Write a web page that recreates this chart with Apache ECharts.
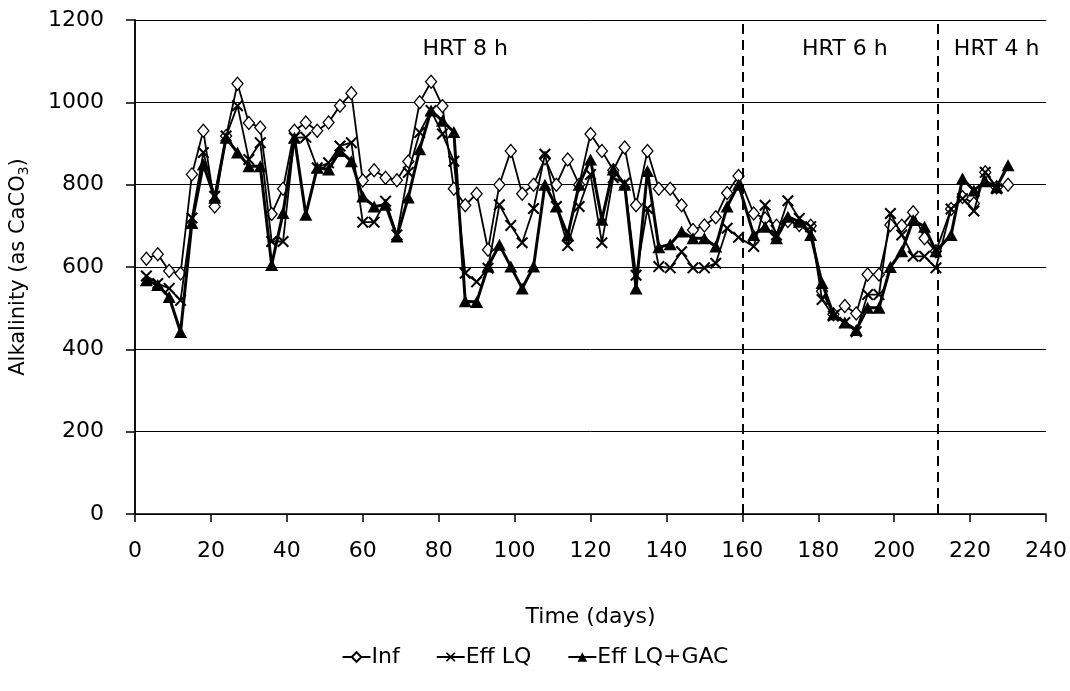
<!DOCTYPE html>
<html>
<head>
<meta charset="utf-8">
<script src="https://cdn.jsdelivr.net/npm/echarts@6/dist/echarts.min.js"></script>
<style>
html,body{margin:0;padding:0;background:#fff;}
#chart{width:1070px;height:691px;}
</style>
</head>
<body>
<div id="chart"></div>
<script>
const days = [3,6,9,12,15,18,21,24,27,30,33,36,39,42,45,48,51,54,57,60,63,66,69,72,75,78,81,84,87,90,93,
  96,99,102,105,108,111,114,117,120,123,126,129,132,135,138,141,144,147,150,153,156,159,
  163,166,169,172,175,178,181,184,187,190,193,196,199,202,205,208,211,
  215,218,221,224,227,230];

const infValues = [620,631,590,584,825,931,747,918,1045,950,939,729,790,931,951,
  931,951,992,1022,810,835,817,811,856,1000,1050,991,790,750,778,642,
  800,882,778,800,864,800,861,800,923,882,835,890,750,882,790,
  790,750,690,701,721,780,821,
  730,718,700,712,702,700,541,485,505,487,582,582,702,700,733,670,638,
  741,770,754,830,794,800];

const effLQValues = [578,560,548,519,719,878,772,918,992,861,902,662,662,914,915,
  841,853,894,902,709,709,760,678,830,927,980,923,857,585,564,597,
  751,701,659,742,874,747,652,747,825,659,817,804,580,742,601,
  598,637,598,598,609,694,672,
  650,750,678,761,718,698,521,481,465,443,533,533,730,678,626,626,598,
  741,766,736,830,790];

const effGACValues = [568,556,527,442,707,849,768,914,878,845,845,605,731,914,727,
  841,837,882,857,771,747,751,674,769,886,980,955,928,517,515,601,
  654,601,548,601,800,747,677,800,861,715,837,800,548,833,648,
  655,686,670,670,650,747,800,
  678,698,670,722,710,678,561,485,465,447,501,501,600,638,714,698,638,
  678,815,786,808,794,847];

const seriesNames = ['Inf', 'Eff LQ', 'Eff LQ+GAC'];
const yTicks = [0,200,400,600,800,1000,1200];
const xTicks = [0,20,40,60,80,100,120,140,160,180,200,220,240];
const phaseBoundaries = [160, 211.5];
const phaseLabels = [
  {text: 'HRT 8 h', x: 87, y: 1130},
  {text: 'HRT 6 h', x: 187, y: 1130},
  {text: 'HRT 4 h', x: 227, y: 1130}
];

function pairs(xs, ys){ return ys.map((v,i)=>[xs[i], v]); }

const FONT = 'DejaVu Sans';
const crossPath = 'path://M0,1.2L1.2,0L5,3.8L8.8,0L10,1.2L6.2,5L10,8.8L8.8,10L5,6.2L1.2,10L0,8.8L3.8,5Z';

const chart = echarts.init(document.getElementById('chart'), null, {renderer:'canvas'});
chart.setOption({
  animation: false,
  backgroundColor: '#fff',
  textStyle: {fontFamily: FONT, color: '#000'},
  grid: {left: 135, right: 23, top: 20, bottom: 177, containLabel: false},
  legend: {
    bottom: 18,
    left: 'center',
    itemWidth: 28,
    itemHeight: 12,
    itemGap: 36,
    textStyle: {fontFamily: FONT, fontSize: 22, color: '#000', padding: [0,0,0,-4]},
    data: seriesNames
  },
  xAxis: {
    type: 'value',
    min: xTicks[0], max: xTicks[xTicks.length-1], interval: 20,
    name: 'Time (days)',
    nameLocation: 'middle',
    nameGap: 92,
    nameTextStyle: {fontFamily: FONT, fontSize: 22, color: '#000'},
    axisLine: {show: true, onZero: false, lineStyle: {color: '#000', width: 1.5}},
    axisTick: {show: true, inside: false, length: 8, lineStyle: {color: '#000', width: 1.5}},
    axisLabel: {fontFamily: FONT, fontSize: 22, color: '#000', margin: 26, formatter: v => String(v)},
    splitLine: {show: false}
  },
  yAxis: [{
    type: 'value',
    min: yTicks[0], max: yTicks[yTicks.length-1], interval: 200,
    name: 'Alkalinity (as CaCO{sub|3})',
    nameLocation: 'middle',
    nameRotate: 90,
    nameGap: 104,
    nameTextStyle: {fontFamily: FONT, fontSize: 21, color: '#000',
      rich: {sub: {fontFamily: FONT, fontSize: 14, color: '#000', padding: [10,0,0,0]}}},
    axisLine: {show: true, onZero: false, lineStyle: {color: '#000', width: 1.5}},
    axisTick: {show: true, inside: false, length: 9, lineStyle: {color: '#000', width: 1.5}},
    axisLabel: {fontFamily: FONT, fontSize: 22, color: '#000', margin: 31, formatter: v => String(v)},
    splitLine: {show: true, lineStyle: {color: '#000', width: 1}}
  }, {
    type: 'value',
    position: 'right',
    min: yTicks[0], max: yTicks[yTicks.length-1], interval: 200,
    axisLine: {show: true, lineStyle: {color: '#000', width: 1.5}},
    axisTick: {show: false},
    axisLabel: {show: false},
    splitLine: {show: false}
  }],
  series: [
    {
      name: seriesNames[0],
      type: 'line',
      data: pairs(days, infValues),
      symbol: 'diamond',
      symbolSize: [11, 13],
      lineStyle: {color: '#000', width: 1.8},
      itemStyle: {color: '#fff', borderColor: '#000', borderWidth: 1.3},
      z: 3,
      markLine: {
        silent: true,
        symbol: ['none','none'],
        label: {show: false},
        lineStyle: {color: '#000', width: 2, type: [10, 6]},
        data: phaseBoundaries.map(v => ({xAxis: v}))
      },
      markPoint: {
        silent: true,
        symbol: 'circle',
        symbolSize: 0,
        label: {show: true, fontFamily: FONT, fontSize: 22, color: '#000', formatter: p => p.name},
        data: phaseLabels.map(p => ({name: p.text, coord: [p.x, p.y]}))
      }
    },
    {
      name: seriesNames[1],
      type: 'line',
      data: pairs(days, effLQValues),
      symbol: crossPath,
      symbolSize: 12,
      lineStyle: {color: '#000', width: 1.8},
      itemStyle: {color: '#000', borderWidth: 0},
      z: 4
    },
    {
      name: seriesNames[2],
      type: 'line',
      data: pairs(days, effGACValues),
      symbol: 'triangle',
      symbolSize: [13, 12],
      lineStyle: {color: '#000', width: 3},
      itemStyle: {color: '#000', borderWidth: 0},
      z: 5
    }
  ]
});
</script>
</body>
</html>
